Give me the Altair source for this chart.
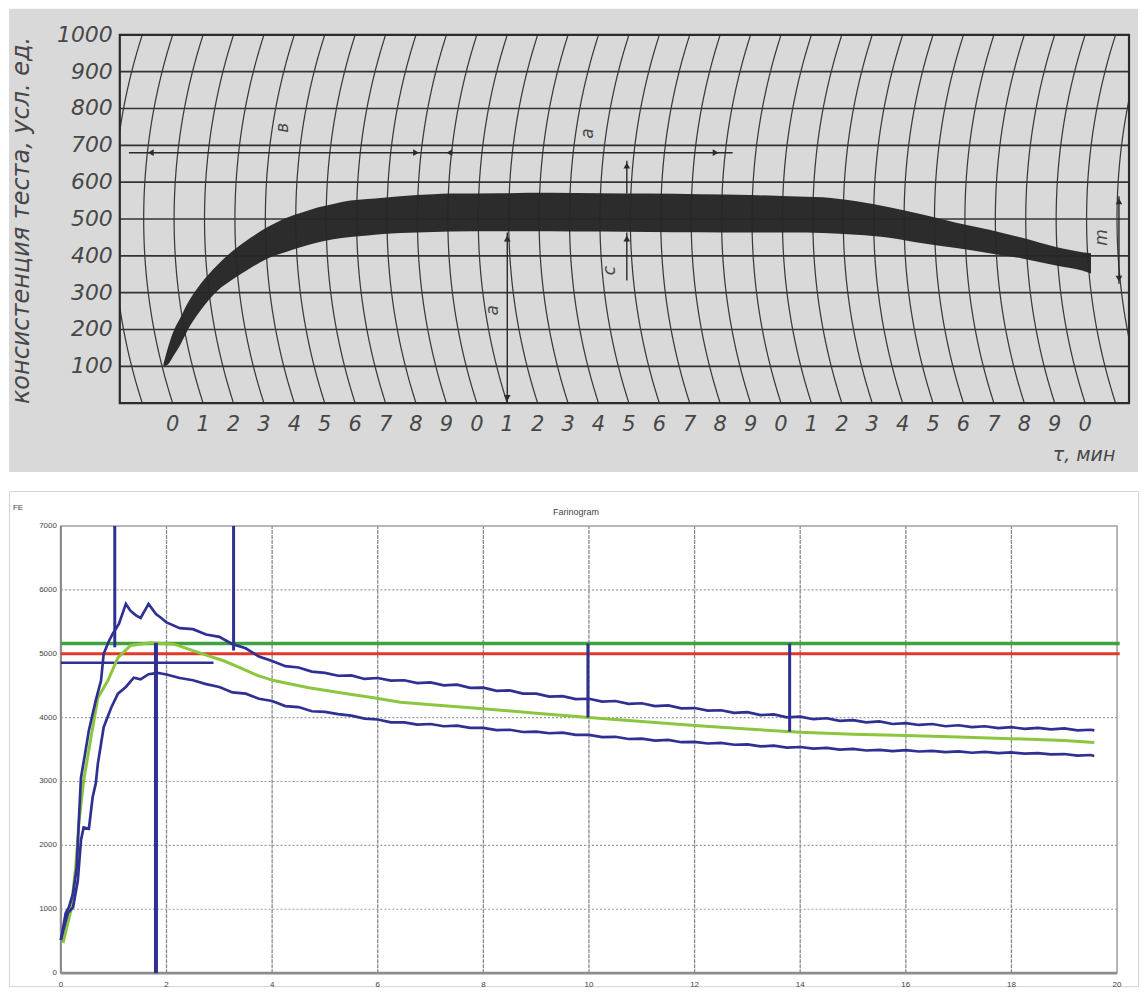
import altair as alt
import numpy as np
import pandas as pd

# ======================= TOP PANEL (farinograph on curvilinear paper) =======================
top_y_labels = [100, 200, 300, 400, 500, 600, 700, 800, 900, 1000]
top_h_lines = [0, 100, 200, 300, 400, 500, 600, 700, 800, 900, 1000]
top_minutes = list(range(0, 31))
top_y_title = 'консистенция теста, усл. ед.'
top_x_title = 'τ, мин'

band_t = [-0.30, -0.16, 0, 0.26, 0.49, 0.92, 1.48, 2.00, 2.56, 3.12, 3.77, 4.20, 4.76, 5.28,
          5.84, 6.40, 6.92, 7.48, 8.57, 9.12, 10.76, 12.41, 14.05, 15.69, 17.33, 18.97, 20.28,
          21.37, 22.48, 23.56, 24.65, 25.76, 26.85, 27.93, 29.04, 29.90, 30.19]
band_upper = [108, 150, 190, 233, 271, 324, 376, 415, 449, 478, 504, 516, 531, 541, 550, 554,
              558, 562, 567, 569, 570, 571, 570, 569, 567, 565, 562, 559, 548, 532, 512, 490,
              471, 449, 424, 410, 407]
band_lower = [100, 105, 125, 160, 198, 252, 306, 338, 367, 393, 412, 423, 436, 445, 451, 455,
              459, 462, 465, 466, 467, 467, 466, 465, 464, 463, 463, 462, 457, 449, 434, 421,
              407, 393, 374, 360, 352]

ann_t1 = [-1.44, 11.0, 14.93, 14.93, 31.11]
ann_t2 = [18.41, 11.0, 14.93, 14.93, 31.11]
ann_v1 = [680, 463, 569, 463, 562]
ann_v2 = [680, 0, 658, 333, 324]

head_t = [-0.72, 8.0, 9.1, 17.85, 11.0, 11.0, 14.93, 14.93, 31.11, 31.11]
head_v = [680, 680, 680, 680, 447, 14, 645, 447, 548, 338]
head_shape = ['triangle-left', 'triangle-right', 'triangle-left', 'triangle-right',
              'triangle-up', 'triangle-down', 'triangle-up', 'triangle-up',
              'triangle-up', 'triangle-down']

letters = ['в', 'а', 'а', 'с', 'm']
letter_t = [3.64, 13.65, 10.53, 14.37, 30.55]
letter_v = [748, 732, 252, 360, 450]

# ======================= BOTTOM PANEL (farinogram) =======================
bot_title = 'Farinogram'
bot_unit = 'FE'
bot_y_ticks = [0, 1000, 2000, 3000, 4000, 5000, 6000, 7000]
bot_x_ticks = [0, 2, 4, 6, 8, 10, 12, 14, 16, 18, 20]
bot_vgrid = [2, 4, 6, 8, 10, 12, 14, 16, 18]
bot_hgrid = [1000, 2000, 3000, 4000, 5000, 6000]

tail_t = [2.0, 2.25, 2.5, 2.75, 3.0, 3.25, 3.5, 3.75, 4.0, 4.25, 4.5, 4.75, 5.0, 5.25, 5.5,
          5.75, 6.0, 6.25, 6.5, 6.75, 7.0, 7.25, 7.5, 7.75, 8.0, 8.25, 8.5, 8.75, 9.0, 9.25,
          9.5, 9.75, 10.0, 10.25, 10.5, 10.75, 11.0, 11.25, 11.5, 11.75, 12.0, 12.25, 12.5,
          12.75, 13.0, 13.25, 13.5, 13.75, 14.0, 14.25, 14.5, 14.75, 15.0, 15.25, 15.5, 15.75,
          16.0, 16.25, 16.5, 16.75, 17.0, 17.25, 17.5, 17.75, 18.0, 18.25, 18.5, 18.75, 19.0,
          19.25, 19.5, 19.57]

upper_t = [0, 0.09, 0.15, 0.23, 0.30, 0.34, 0.38, 0.45, 0.53, 0.66, 0.76, 0.81, 0.91, 0.98,
           1.10, 1.23, 1.32, 1.42, 1.51, 1.66, 1.80, 1.9] + tail_t
upper_v = [520, 940, 1030, 1250, 1660, 2390, 3060, 3400, 3800, 4270, 4580, 5000, 5200, 5310,
           5470, 5780, 5670, 5600, 5560, 5780, 5620, 5560,
           5490, 5400, 5385, 5300, 5265, 5150, 5085, 4955, 4885, 4805, 4785, 4720, 4700, 4655,
           4660, 4605, 4620, 4580, 4585, 4540, 4550, 4505, 4515, 4465, 4470, 4420, 4425, 4375,
           4375, 4330, 4335, 4290, 4295, 4250, 4260, 4215, 4225, 4180, 4190, 4145, 4150, 4110,
           4115, 4075, 4085, 4040, 4050, 4005, 4015, 3975, 3990, 3950, 3960, 3925, 3940, 3900,
           3915, 3885, 3900, 3865, 3880, 3850, 3865, 3835, 3850, 3825, 3840, 3815, 3830, 3800,
           3810, 3800]

lower_t = [0, 0.13, 0.23, 0.32, 0.38, 0.43, 0.53, 0.60, 0.66, 0.70, 0.81, 0.95, 1.08, 1.23,
           1.38, 1.51, 1.66, 1.83, 1.9] + tail_t
lower_v = [520, 940, 1030, 1450, 2080, 2280, 2260, 2750, 2970, 3280, 3850, 4150, 4375, 4480,
           4625, 4600, 4680, 4700, 4690,
           4675, 4620, 4585, 4525, 4480, 4395, 4375, 4295, 4260, 4180, 4165, 4100, 4090, 4055,
           4030, 3985, 3970, 3925, 3925, 3890, 3900, 3865, 3875, 3840, 3840, 3805, 3810, 3775,
           3780, 3755, 3765, 3730, 3730, 3695, 3700, 3665, 3670, 3640, 3650, 3615, 3620, 3595,
           3605, 3575, 3580, 3550, 3560, 3530, 3540, 3515, 3525, 3500, 3510, 3485, 3495, 3475,
           3490, 3470, 3480, 3460, 3470, 3450, 3465, 3445, 3455, 3435, 3445, 3425, 3430, 3405,
           3415, 3400]

mean_t = [0.04, 0.19, 0.28, 0.34, 0.43, 0.57, 0.70, 0.89, 1.08, 1.32, 1.70, 2.14, 2.46, 2.78,
          3.08, 3.40, 3.72, 4.03, 4.67, 5.29, 5.92, 6.43, 7.2, 8.0, 9.0, 10.0, 11.0, 12.0, 13.0,
          14.0, 15.0, 16.0, 17.0, 18.0, 19.0, 19.57]
mean_v = [470, 985, 1660, 2340, 3010, 3690, 4310, 4580, 4940, 5130, 5170, 5150, 5060, 4970,
          4890, 4780, 4660, 4580, 4470, 4390, 4310, 4240, 4190, 4140, 4070, 4000, 3940, 3875,
          3820, 3770, 3740, 3720, 3695, 3670, 3640, 3610]

hline_v = [5160, 5000, 4860]
hline_t1 = [0, 0, 0]
hline_t2 = [20.05, 20.05, 2.89]
hline_color = ['#3fa142', '#e2382c', '#2e3192']
hline_w = [3.5, 3.0, 2.5]

mark_t = [1.02, 3.27, 1.80, 9.98, 13.80]
mark_top = [7000, 7000, 5170, 5160, 5160]
mark_bot = [5100, 5050, 0, 4000, 3780]
mark_w = [3.0, 3.0, 4.0, 3.0, 3.0]

NAVY = '#2e3192'
GREEN_MEAN = '#8cc63f'

# ======================= geometry of the two panels =======================
W = 1131
TOP_H = 464
BOT_H = 496

T_PX = 30.47          # px per minute, top
T0 = 172 - 8          # px of minute 0 from the chart's left
TV_PX = 0.369         # px per unit, top
TV0 = 403 - 8         # px of value 0 from the top panel's top
T_LEFT = (119 - 172) / T_PX
T_RIGHT = (1130 - 172) / T_PX
top_x_domain = [-T0 / T_PX, (W - T0) / T_PX]
top_y_domain = [-(TOP_H - TV0) / TV_PX, TV0 / TV_PX]

B_PX = 52.9
B0 = 60 - 8
BV_PX = 0.064
BV0 = 973 - 490
bot_x_domain = [-B0 / B_PX, (W - B0) / B_PX]
bot_y_domain = [-(BOT_H - BV0) / BV_PX, BV0 / BV_PX]

sx_t = alt.Scale(domain=top_x_domain, nice=False, zero=False)
sy_t = alt.Scale(domain=top_y_domain, nice=False, zero=False)
sx_b = alt.Scale(domain=bot_x_domain, nice=False, zero=False)
sy_b = alt.Scale(domain=bot_y_domain, nice=False, zero=False)


def xt(f):
    return alt.X(f, scale=sx_t, axis=None)


def yt(f):
    return alt.Y(f, scale=sy_t, axis=None)


def xb(f):
    return alt.X(f, scale=sx_b, axis=None)


def yb(f):
    return alt.Y(f, scale=sy_b, axis=None)


# curvilinear arcs of the chart paper (grid decoration)
R = 600.0
dyE = 500 * TV_PX
arc_rows = []
for m in range(-3, 34):
    seg = 0
    prev = False
    for v in np.arange(0, 1000.01, 5):
        dy = (v - 500) * TV_PX
        t = m + (np.sqrt(R ** 2 - dyE ** 2) - np.sqrt(R ** 2 - dy ** 2)) / T_PX
        inside = T_LEFT <= t <= T_RIGHT
        if inside:
            if not prev:
                seg += 1
            arc_rows.append({'t': t, 'v': v, 'arc': f'{m}_{seg}'})
        prev = inside
arcs_df = pd.DataFrame(arc_rows)

SCAN_FONT = 'DejaVu Sans'
SCAN_TXT = '#474747'
INK = '#333333'

hgrid_df = pd.DataFrame({'v': top_h_lines, 't1': T_LEFT, 't2': T_RIGHT})
top_hgrid = alt.Chart(hgrid_df).mark_rule(color=INK, strokeWidth=1.7).encode(
    x=xt('t1:Q'), x2='t2:Q', y=yt('v:Q'))

top_arcs = alt.Chart(arcs_df).mark_line(color='#3a3a3a', strokeWidth=1.25).encode(
    x=xt('t:Q'), y=yt('v:Q'), detail='arc:N', order='v:Q')

border_df = pd.DataFrame({'t1': [T_LEFT], 't2': [T_RIGHT],
                          'v1': [top_h_lines[0]], 'v2': [top_h_lines[-1]]})
top_border = alt.Chart(border_df).mark_rect(filled=False, stroke='#2b2b2b', strokeWidth=2.2).encode(
    x=xt('t1:Q'), x2='t2:Q', y=yt('v1:Q'), y2='v2:Q')

band_df = pd.DataFrame({'t': band_t, 'up': band_upper, 'lo': band_lower})
top_band = alt.Chart(band_df).mark_area(color='#262626', opacity=0.97, interpolate='monotone').encode(
    x=xt('t:Q'), y=yt('up:Q'), y2='lo:Q')

ann_df = pd.DataFrame({'t1': ann_t1, 't2': ann_t2, 'v1': ann_v1, 'v2': ann_v2})
top_ann = alt.Chart(ann_df).mark_rule(color='#2a2a2a', strokeWidth=1.4).encode(
    x=xt('t1:Q'), x2='t2:Q', y=yt('v1:Q'), y2='v2:Q')

head_df = pd.DataFrame({'t': head_t, 'v': head_v, 'shape': head_shape})
top_heads = alt.Chart(head_df).mark_point(filled=True, color='#2a2a2a', size=45, opacity=1).encode(
    x=xt('t:Q'), y=yt('v:Q'), shape=alt.Shape('shape:N', scale=None))

let_df = pd.DataFrame({'t': letter_t, 'v': letter_v, 'txt': letters})
top_letters = alt.Chart(let_df).mark_text(font=SCAN_FONT, fontSize=17, fontStyle='italic',
                                          color=SCAN_TXT, angle=270).encode(
    x=xt('t:Q'), y=yt('v:Q'), text='txt:N')

# tick labels and titles (text drawn through the scales)
ylab_df = pd.DataFrame({'v': top_y_labels, 't': T_LEFT, 'txt': [str(v) for v in top_y_labels]})
top_ylab = alt.Chart(ylab_df).mark_text(font=SCAN_FONT, fontSize=22, fontStyle='italic',
                                        color=SCAN_TXT, align='right', baseline='middle',
                                        dx=-7).encode(x=xt('t:Q'), y=yt('v:Q'), text='txt:N')
xlab_df = pd.DataFrame({'t': top_minutes, 'v': top_h_lines[0],
                        'txt': [str(m % 10) for m in top_minutes]})
top_xlab = alt.Chart(xlab_df).mark_text(font=SCAN_FONT, fontSize=21, fontStyle='italic',
                                        color=SCAN_TXT, align='center', baseline='middle',
                                        dy=22).encode(x=xt('t:Q'), y=yt('v:Q'), text='txt:N')
ttl_df = pd.DataFrame({'t': [(21 - 172) / T_PX, (1085 - 172) / T_PX],
                       'v': [(403 - 220) / TV_PX, (403 - 455) / TV_PX],
                       'txt': [top_y_title, top_x_title], 'ang': [270, 0],
                       'fs': [24, 19]})
top_ttl = alt.Chart(ttl_df).mark_text(font=SCAN_FONT, fontStyle='italic', color=SCAN_TXT,
                                      align='center', baseline='middle').encode(
    x=xt('t:Q'), y=yt('v:Q'), text='txt:N', angle=alt.Angle('ang:Q', scale=None),
    size=alt.Size('fs:Q', scale=None))

top = alt.layer(top_hgrid, top_arcs, top_border, top_band, top_ann, top_heads, top_letters,
                top_ylab, top_xlab, top_ttl).properties(
    width=W, height=TOP_H, view=alt.ViewBackground(fill='#d9d9d9', strokeWidth=0))

# ---------------------------- bottom chart ----------------------------
LBL_FONT = 'Liberation Sans'
LBL_COL = '#444444'

vg_df = pd.DataFrame({'t': bot_vgrid, 'v1': bot_y_ticks[0], 'v2': bot_y_ticks[-1]})
bot_vg = alt.Chart(vg_df).mark_rule(color='#8a8a8a', strokeWidth=1.3, strokeDash=[4, 1]).encode(
    x=xb('t:Q'), y=yb('v1:Q'), y2='v2:Q')

hg_df = pd.DataFrame({'v': bot_hgrid, 't1': bot_x_ticks[0], 't2': bot_x_ticks[-1]})
bot_hg = alt.Chart(hg_df).mark_rule(color='#9a9a9a', strokeWidth=1.2, strokeDash=[2, 2]).encode(
    x=xb('t1:Q'), x2='t2:Q', y=yb('v:Q'))

frame_df = pd.DataFrame({'t1': [bot_x_ticks[0]], 't2': [bot_x_ticks[-1]],
                         'v1': [bot_y_ticks[0]], 'v2': [bot_y_ticks[-1]]})
bot_frame = alt.Chart(frame_df).mark_rect(filled=False, stroke='#a0a0a0', strokeWidth=1.5).encode(
    x=xb('t1:Q'), x2='t2:Q', y=yb('v1:Q'), y2='v2:Q')
bot_left = alt.Chart(frame_df).mark_rule(color='#8c8c8c', strokeWidth=2.2).encode(
    x=xb('t1:Q'), y=yb('v1:Q'), y2='v2:Q')
bot_bottom = alt.Chart(frame_df).mark_rule(color='#8c8c8c', strokeWidth=2.6).encode(
    x=xb('t1:Q'), x2='t2:Q', y=yb('v1:Q'))

hl_df = pd.DataFrame({'v': hline_v, 't1': hline_t1, 't2': hline_t2, 'c': hline_color, 'w': hline_w})
bot_hl = alt.Chart(hl_df).mark_rule().encode(
    x=xb('t1:Q'), x2='t2:Q', y=yb('v:Q'),
    color=alt.Color('c:N', scale=None), strokeWidth=alt.StrokeWidth('w:Q', scale=None))


def curve(ts, vs, color, w):
    df = pd.DataFrame({'t': ts, 'v': vs})
    return alt.Chart(df).mark_line(color=color, strokeWidth=w).encode(x=xb('t:Q'), y=yb('v:Q'))


bot_mean = curve(mean_t, mean_v, GREEN_MEAN, 3.0)
bot_upper = curve(upper_t, upper_v, NAVY, 2.7)
bot_lower = curve(lower_t, lower_v, NAVY, 2.7)

mk_df = pd.DataFrame({'t': mark_t, 'v1': mark_top, 'v2': mark_bot, 'w': mark_w})
bot_marks = alt.Chart(mk_df).mark_rule(color=NAVY).encode(
    x=xb('t:Q'), y=yb('v1:Q'), y2='v2:Q', strokeWidth=alt.StrokeWidth('w:Q', scale=None))

bylab_df = pd.DataFrame({'v': bot_y_ticks, 't': bot_x_ticks[0],
                         'txt': [str(v) for v in bot_y_ticks]})
bot_ylab = alt.Chart(bylab_df).mark_text(font=LBL_FONT, fontSize=8, color=LBL_COL, align='right',
                                         baseline='middle', dx=-4).encode(
    x=xb('t:Q'), y=yb('v:Q'), text='txt:N')
bxlab_df = pd.DataFrame({'t': bot_x_ticks, 'v': bot_y_ticks[0],
                         'txt': [str(t) for t in bot_x_ticks]})
bot_xlab = alt.Chart(bxlab_df).mark_text(font=LBL_FONT, fontSize=8, color=LBL_COL, align='center',
                                         baseline='middle', dy=12).encode(
    x=xb('t:Q'), y=yb('v:Q'), text='txt:N')
bttl_df = pd.DataFrame({'t': [(576 - 60) / B_PX, (17 - 60) / B_PX],
                        'v': [(973 - 511) / BV_PX, (973 - 507) / BV_PX],
                        'txt': [bot_title, bot_unit], 'fs': [9, 8]})
bot_ttl = alt.Chart(bttl_df).mark_text(font=LBL_FONT, color=LBL_COL, align='center',
                                       baseline='middle').encode(
    x=xb('t:Q'), y=yb('v:Q'), text='txt:N', size=alt.Size('fs:Q', scale=None))

bottom = alt.layer(bot_vg, bot_hg, bot_frame, bot_left, bot_bottom, bot_hl, bot_mean,
                   bot_upper, bot_lower, bot_marks, bot_ylab, bot_xlab, bot_ttl).properties(
    width=W, height=BOT_H, view=alt.ViewBackground(fill='white', stroke='#d4d4d4', strokeWidth=1))

chart = alt.vconcat(top, bottom, spacing=18).properties(padding=0, background='white')

chart.save('out.html', embed_options={'renderer': 'svg', 'actions': False})
